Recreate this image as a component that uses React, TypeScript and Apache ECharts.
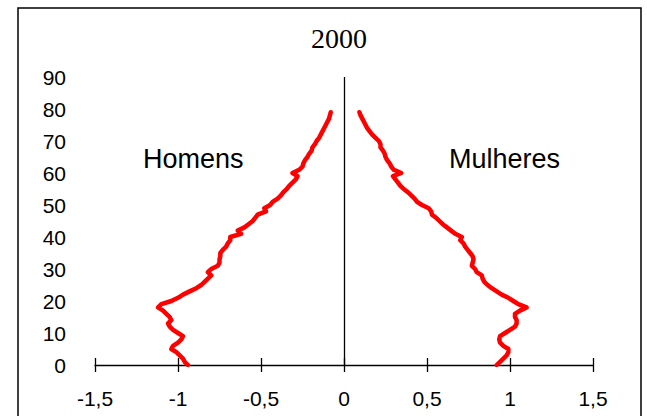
import React, { useEffect, useRef } from "react";
import * as echarts from "echarts";

const title = "2000";
const leftLabel = "Homens";
const rightLabel = "Mulheres";

const ages = [
  0, 1, 2, 3, 4, 5, 6, 7, 8, 9,
  10, 11, 12, 13, 14, 15, 16, 17, 18, 19,
  20, 21, 22, 23, 24, 25, 26, 27, 28, 29,
  30, 31, 32, 33, 34, 35, 36, 37, 38, 39,
  40, 41, 42, 43, 44, 45, 46, 47, 48, 49,
  50, 51, 52, 53, 54, 55, 56, 57, 58, 59,
  60, 61, 62, 63, 64, 65, 66, 67, 68, 69,
  70, 71, 72, 73, 74, 75, 76, 77, 78, 79,
];

const homens = [
  -0.94, -0.96, -0.97, -0.99, -1.01, -1.04, -1.03, -1.0, -0.98, -0.97,
  -1.0, -1.03, -1.05, -1.06, -1.04, -1.05, -1.07, -1.09, -1.12, -1.1,
  -1.04, -1.0, -0.97, -0.93, -0.89, -0.86, -0.84, -0.82, -0.8, -0.82,
  -0.8, -0.76, -0.75, -0.75, -0.745, -0.745, -0.73, -0.71, -0.7, -0.685,
  -0.685, -0.62, -0.64, -0.6, -0.575, -0.55, -0.535, -0.52, -0.47, -0.48,
  -0.445, -0.43, -0.4, -0.38, -0.365, -0.345, -0.33, -0.31, -0.29, -0.28,
  -0.31, -0.27, -0.25, -0.245, -0.235, -0.22, -0.21, -0.195, -0.19, -0.175,
  -0.165, -0.15, -0.14, -0.13, -0.12, -0.11, -0.1, -0.09, -0.085, -0.08,
];

const mulheres = [
  0.92, 0.94, 0.96, 0.98, 0.99, 0.99, 0.96, 0.94, 0.935, 0.94,
  0.97, 1.0, 1.03, 1.04, 1.04, 1.03, 1.03, 1.06, 1.1, 1.05,
  1.02, 0.99, 0.95, 0.92, 0.89, 0.865, 0.845, 0.835, 0.83, 0.8,
  0.79, 0.77, 0.775, 0.78, 0.775, 0.76, 0.745, 0.73, 0.72, 0.7,
  0.71, 0.67, 0.645, 0.62, 0.595, 0.575, 0.555, 0.53, 0.525, 0.51,
  0.47, 0.44, 0.425, 0.405, 0.385, 0.36, 0.34, 0.325, 0.31, 0.295,
  0.345, 0.3, 0.285, 0.275, 0.26, 0.25, 0.245, 0.235, 0.22, 0.22,
  0.21, 0.19, 0.17, 0.155, 0.14, 0.13, 0.12, 0.11, 0.1, 0.093,
];

const xTicks = [-1.5, -1, -0.5, 0, 0.5, 1, 1.5];
const yTicks = [0, 10, 20, 30, 40, 50, 60, 70, 80, 90];

export default function App() {
  const ref = useRef<HTMLDivElement>(null);
  useEffect(() => {
    if (!ref.current) return;
    const chart = echarts.init(ref.current, undefined, { renderer: "svg" });
    const fmtX = (v: number) => String(v).replace(".", ",");
    const xBase = {
      type: "value" as const,
      min: xTicks[0],
      max: xTicks[xTicks.length - 1],
      interval: 0.5,
      position: "bottom" as const,
      splitLine: { show: false },
    };
    chart.setOption({
      animation: false,
      backgroundColor: "#ffffff",
      title: {
        text: title,
        left: 334,
        top: 19,
        textAlign: "center",
        textStyle: {
          fontFamily: "Liberation Serif",
          fontSize: 28,
          fontWeight: "normal",
          color: "#000",
        },
      },
      grid: { left: 95, right: 54, top: 77, bottom: 51, containLabel: false },
      xAxis: [
        {
          ...xBase,
          axisLine: { show: true, onZero: false, lineStyle: { color: "#000", width: 1.3 } },
          axisTick: { show: true, inside: false, length: 7, lineStyle: { color: "#000", width: 1.3 } },
          axisLabel: {
            show: true,
            margin: 23,
            formatter: fmtX,
            fontFamily: "Liberation Sans",
            fontSize: 21,
            color: "#000",
          },
        },
        {
          ...xBase,
          axisLine: { show: false },
          axisTick: { show: true, inside: true, length: 7, lineStyle: { color: "#000", width: 1.3 } },
          axisLabel: { show: false },
        },
      ],
      yAxis: {
        type: "value",
        min: yTicks[0],
        max: yTicks[yTicks.length - 1],
        interval: 10,
        position: "left",
        axisLine: { show: false },
        axisTick: { show: false },
        splitLine: { show: false },
        axisLabel: {
          margin: 29,
          fontFamily: "Liberation Sans",
          fontSize: 21,
          color: "#000",
        },
      },
      graphic: [
        {
          type: "rect",
          shape: { x: 18, y: 8, width: 623, height: 430 },
          style: { fill: "none", stroke: "#000", lineWidth: 1.5 },
          silent: true,
        },
        {
          type: "text",
          left: 143,
          top: 145,
          style: {
            text: leftLabel,
            font: "27px 'Liberation Sans'",
            fill: "#000",
          },
        },
        {
          type: "text",
          left: 449,
          top: 145,
          style: {
            text: rightLabel,
            font: "27px 'Liberation Sans'",
            fill: "#000",
          },
        },
      ],
      series: [
        {
          name: leftLabel,
          type: "line",
          xAxisIndex: 0,
          data: ages.map((a, i) => [homens[i], a]),
          showSymbol: false,
          symbol: "none",
          lineStyle: { color: "#ff0000", width: 4.5, join: "round", cap: "round" },
          markLine: {
            silent: true,
            symbol: "none",
            label: { show: false },
            lineStyle: { color: "#000", width: 1.3, type: "solid" },
            data: [[{ coord: [0, yTicks[0]] }, { coord: [0, yTicks[yTicks.length - 1]] }]],
          },
          z: 3,
        },
        {
          name: rightLabel,
          type: "line",
          xAxisIndex: 0,
          data: ages.map((a, i) => [mulheres[i], a]),
          showSymbol: false,
          symbol: "none",
          lineStyle: { color: "#ff0000", width: 4.5, join: "round", cap: "round" },
          z: 3,
        },
      ],
    });
    return () => chart.dispose();
  }, []);
  return (
    <div
      ref={ref}
      style={{ position: "fixed", left: 0, top: 0, width: 647, height: 416 }}
    />
  );
}
